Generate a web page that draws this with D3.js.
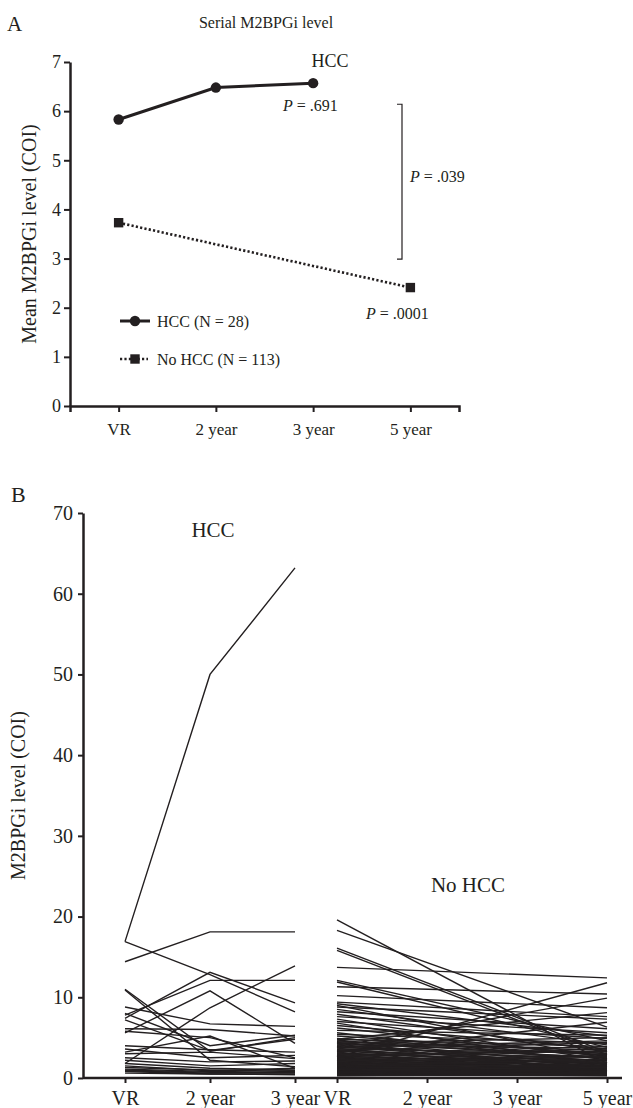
<!DOCTYPE html>
<html>
<head>
<meta charset="utf-8">
<script src="https://cdn.jsdelivr.net/npm/d3@7"></script>
<style>
body { margin: 0; background: #fff; }
</style>
</head>
<body>
<svg id="chart"></svg>
<script>
// ---- data: panel A (means) ----
let timesA = ['VR', '2 year', '3 year', '5 year'];
let hccMeanTimes = ['VR', '2 year', '3 year'];
let hccMean = [5.83, 6.48, 6.57];
let noHccMeanTimes = ['VR', '5 year'];
let noHccMean = [3.73, 2.41];
let ticksA = [0, 1, 2, 3, 4, 5, 6, 7];

// ---- data: panel B (individual patients) ----
let timesHcc = ['VR', '2 year', '3 year'];
let timesNoHcc = ['VR', '2 year', '3 year', '5 year'];
let noHccMeasured = ['VR', '5 year'];
let ticksB = [0, 10, 20, 30, 40, 50, 60, 70];

// HCC (N = 28): VR, 2 year, 3 year
let hccPatients = [
	[16.9, 50.0, 63.2], [14.4, 18.1, 18.1], [16.9, 12.8, 8.2], [7.4, 13.1, 9.3],
	[7.8, 12.1, 12.1], [5.6, 10.8, 4.3], [1.8, 8.7, 13.9], [11.0, 3.3, 5.0],
	[10.9, 2.2, 1.4], [8.8, 6.7, 6.4], [8.0, 4.0, 5.3], [7.2, 3.4, 4.8],
	[6.1, 6.0, 5.2], [5.8, 5.0, 2.5], [3.2, 5.2, 1.2], [4.0, 3.5, 3.2],
	[3.6, 2.5, 2.8], [3.0, 3.2, 2.4], [2.5, 2.0, 2.1], [2.2, 1.5, 1.8],
	[1.8, 1.2, 1.0], [1.5, 0.9, 1.2], [1.3, 1.0, 0.8], [1.1, 0.8, 0.9],
	[1.0, 0.7, 0.6], [0.9, 0.6, 0.7], [0.8, 0.5, 0.5], [0.6, 0.5, 0.4]
];

// No HCC (N = 113): VR, 5 year
let noHccPatients = [
	[19.6, 1.8], [18.3, 6.3], [16.1, 3.2], [15.8, 2.9], [13.7, 12.4], [12.1, 4.6],
	[11.3, 10.4], [11.9, 3.8], [10.2, 8.7], [9.4, 7.6], [9.2, 5.2], [9.0, 2.4],
	[8.8, 7.3], [8.5, 4.1], [8.2, 6.1], [7.9, 3.3], [7.6, 5.6], [7.3, 2.2],
	[7.0, 4.9], [6.8, 1.6], [6.5, 3.6], [6.2, 2.7], [5.9, 5.3], [5.6, 1.9],
	[5.4, 4.3], [5.2, 3.0], [2.6, 11.8], [3.9, 9.9], [4.8, 8.1], [3.2, 6.9],
	[4.9, 2.8], [4.8, 3.9], [4.7, 1.5], [4.6, 2.4], [4.5, 3.4], [4.4, 1.2],
	[4.3, 2.9], [4.2, 0.9], [4.1, 3.7], [4.0, 2.1], [3.9, 1.4], [3.8, 2.6],
	[3.7, 0.8], [3.6, 3.1], [3.5, 1.9], [3.4, 1.1], [3.3, 2.5], [3.2, 0.7],
	[3.1, 1.7], [3.0, 2.2], [2.9, 1.3], [2.9, 3.3], [2.8, 0.9], [2.7, 1.8],
	[2.6, 1.0], [2.5, 2.3], [2.5, 0.6], [2.4, 1.5], [2.3, 1.1], [2.3, 2.0],
	[2.2, 0.8], [2.1, 1.6], [2.0, 1.2], [2.0, 0.5], [1.9, 1.4], [1.9, 2.7],
	[1.8, 0.9], [1.8, 1.3], [1.7, 0.7], [1.7, 1.9], [1.6, 1.1], [1.6, 0.6],
	[1.5, 1.0], [1.5, 1.6], [1.4, 0.8], [1.4, 1.2], [1.3, 0.5], [1.3, 1.4],
	[1.2, 0.9], [1.2, 0.7], [1.1, 1.1], [1.1, 0.6], [1.0, 0.8], [1.0, 1.3],
	[0.9, 0.5], [0.9, 0.9], [0.9, 0.7], [0.8, 0.6], [0.8, 1.0], [0.8, 0.4],
	[0.7, 0.7], [0.7, 0.5], [0.7, 0.9], [0.6, 0.4], [0.6, 0.6], [0.6, 0.8],
	[0.5, 0.5], [0.5, 0.3], [0.5, 0.7], [0.5, 0.4], [0.4, 0.5], [0.4, 0.3],
	[0.4, 0.6], [0.4, 0.4], [0.3, 0.3], [0.3, 0.5], [0.3, 0.4], [3.4, 4.4],
	[2.7, 3.6], [2.1, 2.9], [1.6, 2.3], [4.3, 5.0], [3.8, 4.6]
];
</script>

<script>
const ink = '#231f20';
const serif = '"Liberation Serif", "Times New Roman", "DejaVu Serif", serif';
let svg = d3.select('#chart').attr('width', 633).attr('height', 1108)
	.attr('font-family', serif);

let styleAxis = function(g, size) {
	g.attr('font-size', size).attr('font-family', serif);
	g.select('.domain').attr('stroke', ink).attr('stroke-width', 2.5);
	g.selectAll('.tick line').attr('stroke', ink).attr('stroke-width', 2);
	g.selectAll('.tick text').attr('fill', ink);
}

// ================= Panel A =================
let xA = d3.scalePoint().domain(timesA).range([70, 459]).padding(0.5);
let yA = d3.scaleLinear().domain([0, 7]).range([406, 62]);

svg.append('text').attr('x', 7).attr('y', 31).attr('font-size', 21).text('A');
svg.append('text').attr('x', 266).attr('y', 28).attr('text-anchor', 'middle')
	.attr('font-size', 16).text('Serial M2BPGi level');

svg.append('g').attr('transform', 'translate(0,406)')
	.call(d3.axisBottom(xA).tickSize(6).tickSizeOuter(6).tickPadding(11))
	.call(styleAxis, 17);
svg.append('g').attr('transform', 'translate(70,0)')
	.call(d3.axisLeft(yA).tickValues(ticksA).tickFormat(d3.format('d')).tickSize(6).tickSizeOuter(0).tickPadding(3))
	.call(styleAxis, 18);

svg.append('text')
	.attr('transform', 'translate(36,' + ((yA(0) + yA(7)) / 2) + ') rotate(-90)')
	.attr('text-anchor', 'middle').attr('font-size', 20)
	.text('Mean M2BPGi level (COI)');

// HCC mean line
let hccPts = hccMeanTimes.map((t, i) => [xA(t), yA(hccMean[i])]);
svg.append('path').attr('d', d3.line()(hccPts))
	.attr('fill', 'none').attr('stroke', ink).attr('stroke-width', 3);
svg.selectAll('.hccDot').data(hccPts).enter().append('circle')
	.attr('cx', d => d[0]).attr('cy', d => d[1]).attr('r', 5.2).attr('fill', ink);

// No HCC mean line
let noPts = noHccMeanTimes.map((t, i) => [xA(t), yA(noHccMean[i])]);
svg.append('path').attr('d', d3.line()(noPts))
	.attr('fill', 'none').attr('stroke', ink).attr('stroke-width', 2.6)
	.attr('stroke-dasharray', '2.2,2.2');
svg.selectAll('.noSq').data(noPts).enter().append('rect')
	.attr('x', d => d[0] - 4.7).attr('y', d => d[1] - 4.7)
	.attr('width', 9.4).attr('height', 9.4).attr('fill', ink);

// annotations
svg.append('text').attr('x', xA('3 year') + 17).attr('y', 67).attr('text-anchor', 'middle')
	.attr('font-size', 18).text('HCC');

let pLabel = function(x, y, val) {
	let t = svg.append('text').attr('x', x).attr('y', y).attr('font-size', 16);
	t.append('tspan').attr('font-style', 'italic').text('P');
	t.append('tspan').text(' = ' + val);
}
pLabel(283, 111, '.691');
pLabel(410, 182, '.039');
pLabel(366, 319, '.0001');

// bracket
let bx = 402;
svg.append('path')
	.attr('d', d3.line()([[bx - 5, yA(6.14)], [bx, yA(6.14)], [bx, yA(2.99)], [bx - 5, yA(2.99)]]))
	.attr('fill', 'none').attr('stroke', ink).attr('stroke-width', 1.2);

// legend
let legend = svg.append('g');
legend.append('line').attr('x1', 120).attr('x2', 150).attr('y1', 321).attr('y2', 321)
	.attr('stroke', ink).attr('stroke-width', 3);
legend.append('circle').attr('cx', 135).attr('cy', 321).attr('r', 5.2).attr('fill', ink);
legend.append('text').attr('x', 157).attr('y', 326.5).attr('font-size', 16).text('HCC (N = 28)');
legend.append('line').attr('x1', 120).attr('x2', 148).attr('y1', 359).attr('y2', 359)
	.attr('stroke', ink).attr('stroke-width', 2.6).attr('stroke-dasharray', '2.2,2.2');
legend.append('rect').attr('x', 130.3).attr('y', 354.3).attr('width', 9.4).attr('height', 9.4).attr('fill', ink);
legend.append('text').attr('x', 157).attr('y', 364.5).attr('font-size', 16).text('No HCC (N = 113)');

// ================= Panel B =================
let xHcc = d3.scalePoint().domain(timesHcc).range([125, 295]);
let xNo = d3.scalePoint().domain(timesNoHcc).range([337, 607]);
let yB = d3.scaleLinear().domain([0, 70]).range([1078, 513]);

svg.append('text').attr('x', 11).attr('y', 502).attr('font-size', 22).text('B');

let lineB = d3.line();
svg.append('g').selectAll('path').data(hccPatients).enter().append('path')
	.attr('d', d => lineB(d.map((v, i) => [xHcc(timesHcc[i]), yB(v)])))
	.attr('fill', 'none').attr('stroke', ink).attr('stroke-width', 1.4);
svg.append('g').selectAll('path').data(noHccPatients).enter().append('path')
	.attr('d', d => lineB(d.map((v, i) => [xNo(noHccMeasured[i]), yB(v)])))
	.attr('fill', 'none').attr('stroke', ink).attr('stroke-width', 1.4);

// axes B
svg.append('line').attr('x1', 83).attr('x2', 622).attr('y1', yB(0)).attr('y2', yB(0))
	.attr('stroke', ink).attr('stroke-width', 2.5);
svg.append('g').attr('transform', 'translate(0,' + yB(0) + ')')
	.call(d3.axisBottom(xHcc).tickSize(5).tickSizeOuter(0).tickPadding(8))
	.call(styleAxis, 20).call(g => g.select('.domain').remove());
svg.append('g').attr('transform', 'translate(0,' + yB(0) + ')')
	.call(d3.axisBottom(xNo).tickSize(5).tickSizeOuter(0).tickPadding(8))
	.call(styleAxis, 20).call(g => g.select('.domain').remove());
svg.append('g').attr('transform', 'translate(83,0)')
	.call(d3.axisLeft(yB).tickValues(ticksB).tickSize(5).tickSizeOuter(0).tickPadding(5))
	.call(styleAxis, 20);

svg.append('text')
	.attr('transform', 'translate(25,' + ((yB(0) + yB(70)) / 2) + ') rotate(-90)')
	.attr('text-anchor', 'middle').attr('font-size', 20)
	.text('M2BPGi level (COI)');

svg.append('text').attr('x', xHcc('2 year') + 3).attr('y', 537).attr('text-anchor', 'middle')
	.attr('font-size', 21).text('HCC');
svg.append('text').attr('x', 468).attr('y', 892).attr('text-anchor', 'middle')
	.attr('font-size', 21).text('No HCC');

svg.selectAll('text').attr('font-family', serif).attr('fill', ink);
</script>
</body>
</html>
